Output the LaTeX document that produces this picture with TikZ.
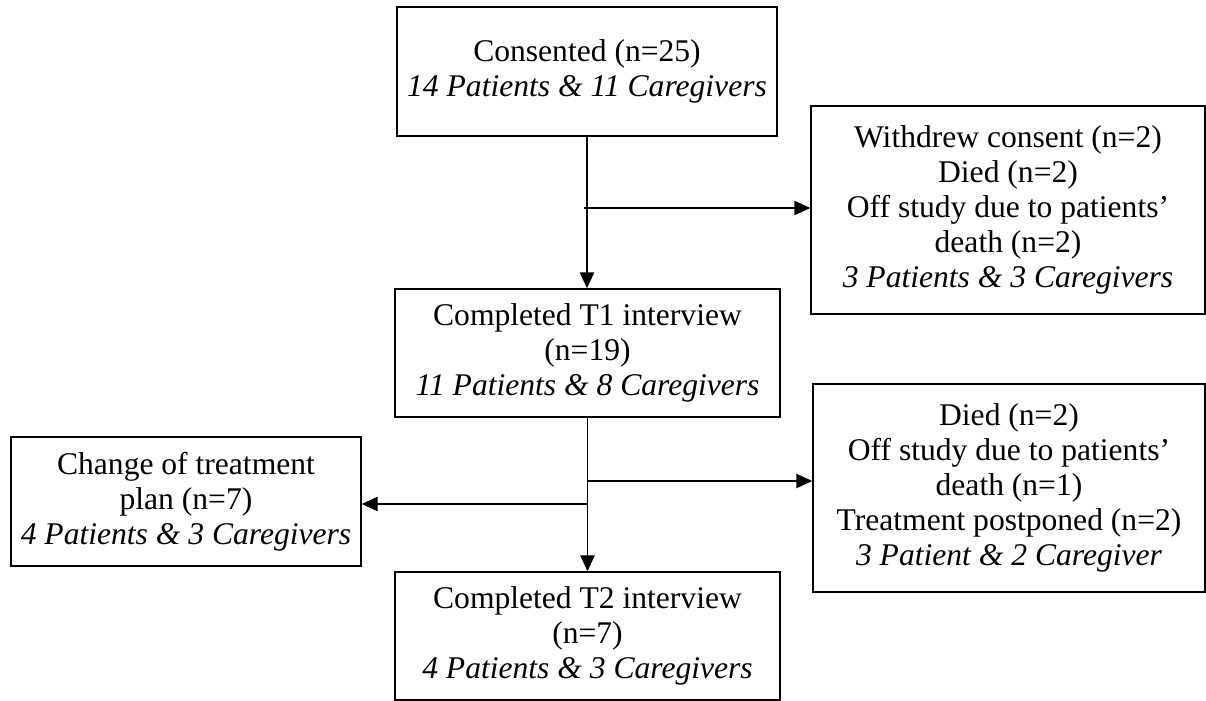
\documentclass[tikz,border=0pt]{standalone}
\usepackage{fontspec}
\setmainfont{Liberation Serif}
\usetikzlibrary{arrows.meta}

\begin{document}
\begin{tikzpicture}[x=0.38pt,y=0.38pt,yscale=-1,
	box/.style={draw, line width=0.6pt, inner sep=0pt, align=center,
		font=\fontsize{12}{13.3}\selectfont},
	flow/.style={line width=0.6pt, -{Triangle[length=6pt,width=5.4pt]}}]
		\useasboundingbox (0,0) rectangle (1206,700);

		\node[box, minimum width=144.4pt, minimum height=49pt] (cons) at (587,71.5)
			{Consented (n=25)\\ \textit{14 Patients \& 11 Caregivers}};
		\node[box, minimum width=149.7pt, minimum height=79pt] (wd) at (1008,210)
			{Withdrew consent (n=2)\\ Died (n=2)\\ Off study due to patients'\\ death (n=2)\\ \textit{3 Patients \& 3 Caregivers}};
		\node[box, minimum width=146.3pt, minimum height=48.6pt] (t1) at (587.5,353)
			{Completed T1 interview\\ (n=19)\\ \textit{11 Patients \& 8 Caregivers}};
		\node[box, minimum width=133pt, minimum height=49pt] (chg) at (186,501.5)
			{Change of treatment\\ plan (n=7)\\ \textit{4 Patients \& 3 Caregivers}};
		\node[box, minimum width=149pt, minimum height=79pt] (died) at (1009,488)
			{Died (n=2)\\ Off study due to patients'\\ death (n=1)\\ Treatment postponed (n=2)\\ \textit{3 Patient \& 2 Caregiver}};
		\node[box, minimum width=146.3pt, minimum height=48.6pt] (t2) at (587.5,636)
			{Completed T2 interview\\ (n=7)\\ \textit{4 Patients \& 3 Caregivers}};

		\coordinate (j1) at (584,208);
		\coordinate (j2) at (587,481);
		\coordinate (j3) at (587,504);

		\draw[flow] (cons.south) -- (cons.south |- t1.north);
		\draw[flow] (j1) -- (j1 -| wd.west);
		\draw[flow] (t1.south) -- (t1.south |- t2.north);
		\draw[flow] (j2) -- (j2 -| died.west);
		\draw[flow] (j3) -- (j3 -| chg.east);
	\end{tikzpicture}
\end{document}
